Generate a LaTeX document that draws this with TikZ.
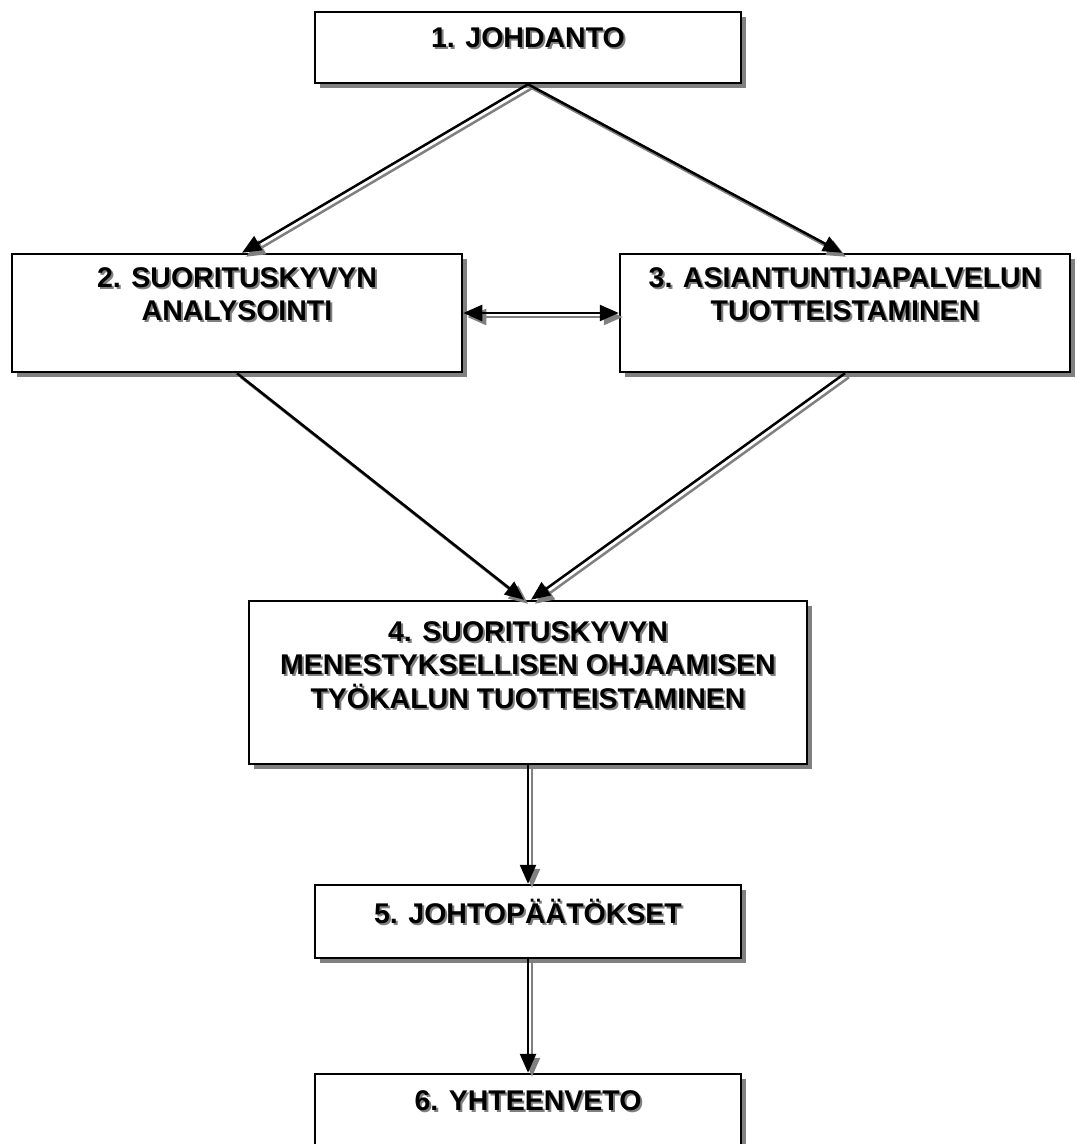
\documentclass[tikz,border=0pt]{standalone}
\usepackage{fontspec}
\setmainfont{Liberation Sans}
\usetikzlibrary{arrows.meta,shadows}
\definecolor{shade}{gray}{0.5}
% text with a small grey drop shadow
\newcommand\dropt[1]{\makebox[0pt][l]{\kern2pt\raisebox{-2pt}{\color{shade}#1}}#1}
\tikzset{
  box/.style={draw=black, line width=2.5pt, fill=white, rectangle, inner sep=0pt,
    drop shadow={shadow xshift=5pt, shadow yshift=-5pt, opacity=1, fill=shade}},
  lbl/.style={align=center, inner sep=0pt,
    font=\fontsize{28.5}{33.5}\selectfont\bfseries},
  conn/.style={line width=2.5pt, draw=black, -{Triangle[length=19pt,width=16pt]}},
  conn2/.style={line width=2.5pt, draw=black, {Triangle[length=19pt,width=16pt]}-{Triangle[length=19pt,width=16pt]}},
  ghost/.style={draw=shade, transform canvas={xshift=4pt,yshift=-4pt}},
}
\begin{document}
\begin{tikzpicture}[x=1pt,y=-1pt]
\useasboundingbox (0,0) rectangle (1077,1144);

% boxes
\node[box, minimum width=426pt, minimum height=71pt]  (b1) at (528,47.5) {};
\node[box, minimum width=450pt, minimum height=118pt] (b2) at (237,313) {};
\node[box, minimum width=450pt, minimum height=118pt] (b3) at (845,313) {};
\node[box, minimum width=558pt, minimum height=163pt] (b4) at (528,682.5) {};
\node[box, minimum width=426pt, minimum height=73pt]  (b5) at (528,921.5) {};
\node[box, minimum width=426pt, minimum height=90pt]  (b6) at (528,1119) {};

% labels
\node[lbl] (t1) at (528,39) {\dropt{1. JOHDANTO}};
\node[lbl] (t2) at (237,295) {\dropt{2. SUORITUSKYVYN}\\\dropt{ANALYSOINTI}};
\node[lbl] (t3) at (845,295) {\dropt{3. ASIANTUNTIJAPALVELUN}\\\dropt{TUOTTEISTAMINEN}};
\node[lbl] (t4) at (528,666) {\dropt{4. SUORITUSKYVYN}\\\dropt{MENESTYKSELLISEN OHJAAMISEN}\\\dropt{TYÖKALUN TUOTTEISTAMINEN}};
\node[lbl] (t5) at (528,912) {\dropt{5. JOHTOPÄÄTÖKSET}};
\node[lbl] (t6) at (528,1102) {\dropt{6. YHTEENVETO}};

% connector shadows
\draw[conn, ghost] (b1.south) -- ([xshift=5pt]b2.north);
\draw[conn, ghost] (b1.south) -- ([xshift=-3pt]b3.north);
\draw[conn2, ghost] (b2.east) -- (b3.west);
\draw[conn, ghost] (b2.south) -- ([xshift=-4pt]b4.north);
\draw[conn, ghost] (b3.south) -- ([xshift=3pt]b4.north);
\draw[conn, ghost] (b4.south) -- (b5.north);
\draw[conn, ghost] (b5.south) -- (b6.north);

% connectors
\draw[conn] (b1.south) -- ([xshift=5pt]b2.north);
\draw[conn] (b1.south) -- ([xshift=-3pt]b3.north);
\draw[conn2] (b2.east) -- (b3.west);
\draw[conn] (b2.south) -- ([xshift=-4pt]b4.north);
\draw[conn] (b3.south) -- ([xshift=3pt]b4.north);
\draw[conn] (b4.south) -- (b5.north);
\draw[conn] (b5.south) -- (b6.north);
\end{tikzpicture}
\end{document}
